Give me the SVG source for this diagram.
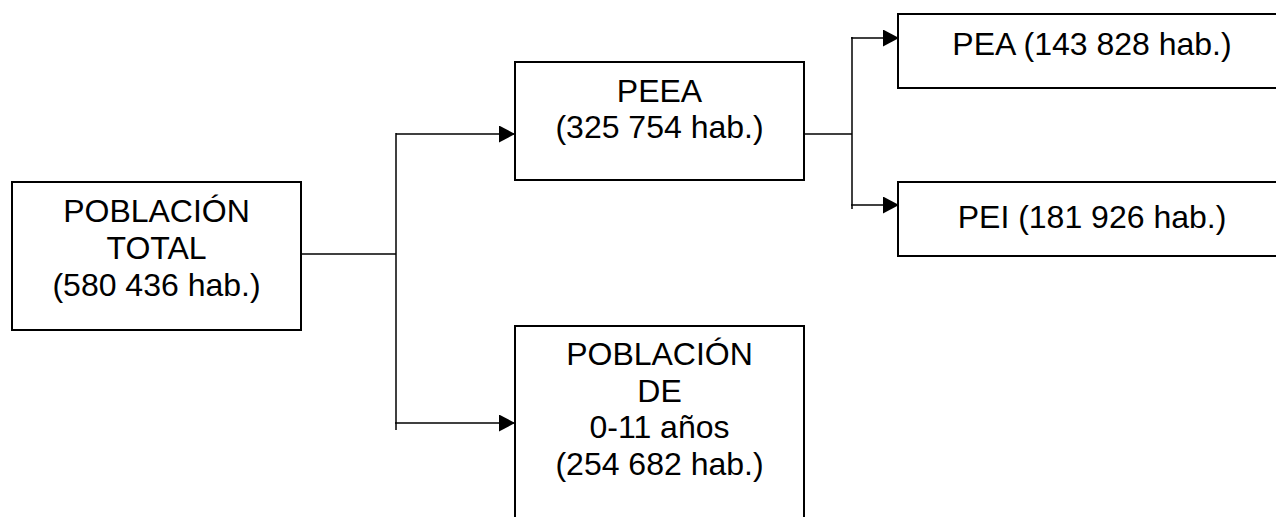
<svg xmlns="http://www.w3.org/2000/svg" width="1276" height="517" viewBox="0 0 1276 517">
  <style>
    .box { fill: #ffffff; stroke: #000000; stroke-width: 2; }
    .lbl { font-family: "Liberation Sans", Arial, sans-serif; font-size: 32px; fill: #000000; text-anchor: middle; }
    .conn { fill: none; stroke: #000000; stroke-width: 1.5; }
  </style>
  <defs>
    <marker id="arrow" markerUnits="userSpaceOnUse" markerWidth="16" markerHeight="17" refX="16" refY="8.5" orient="auto" viewBox="0 0 16 17">
      <path d="M0,0 L16,8.5 L0,17 Z" fill="#000000"/>
    </marker>
  </defs>
  <rect x="0" y="0" width="1276" height="517" fill="#ffffff"/>

  <g id="connectors">
    <line class="conn" x1="301" y1="254" x2="396" y2="254"/>
    <line class="conn" x1="396" y1="133" x2="396" y2="430"/>
    <line class="conn" x1="396" y1="134" x2="515" y2="134" marker-end="url(#arrow)"/>
    <line class="conn" x1="395" y1="423" x2="515" y2="423" marker-end="url(#arrow)"/>
    <line class="conn" x1="804" y1="134" x2="852" y2="134"/>
    <line class="conn" x1="852" y1="37" x2="852" y2="209"/>
    <line class="conn" x1="851" y1="38" x2="899" y2="38" marker-end="url(#arrow)"/>
    <line class="conn" x1="851" y1="205" x2="899" y2="205" stroke-width="2" marker-end="url(#arrow)"/>
  </g>

  <g id="node-total">
    <rect class="box" x="12" y="182" width="289" height="148"/>
    <text class="lbl" x="156.5" y="222">POBLACIÓN</text>
    <text class="lbl" x="156.5" y="259">TOTAL</text>
    <text class="lbl" x="156.5" y="296">(580 436 hab.)</text>
  </g>

  <g id="node-peea">
    <rect class="box" x="515" y="62" width="289" height="118"/>
    <text class="lbl" x="659.5" y="102">PEEA</text>
    <text class="lbl" x="659.5" y="138">(325 754 hab.)</text>
  </g>

  <g id="node-0-11">
    <rect class="box" x="515" y="326" width="289" height="200"/>
    <text class="lbl" x="659.5" y="365">POBLACIÓN</text>
    <text class="lbl" x="659.5" y="401.7">DE</text>
    <text class="lbl" x="659.5" y="438.3">0-11 años</text>
    <text class="lbl" x="659.5" y="475">(254 682 hab.)</text>
  </g>

  <g id="node-pea">
    <rect class="box" x="898" y="14" width="388" height="74"/>
    <text class="lbl" x="1092" y="55">PEA (143 828 hab.)</text>
  </g>

  <g id="node-pei">
    <rect class="box" x="898" y="182" width="388" height="74"/>
    <text class="lbl" x="1092" y="228">PEI (181 926 hab.)</text>
  </g>
</svg>
